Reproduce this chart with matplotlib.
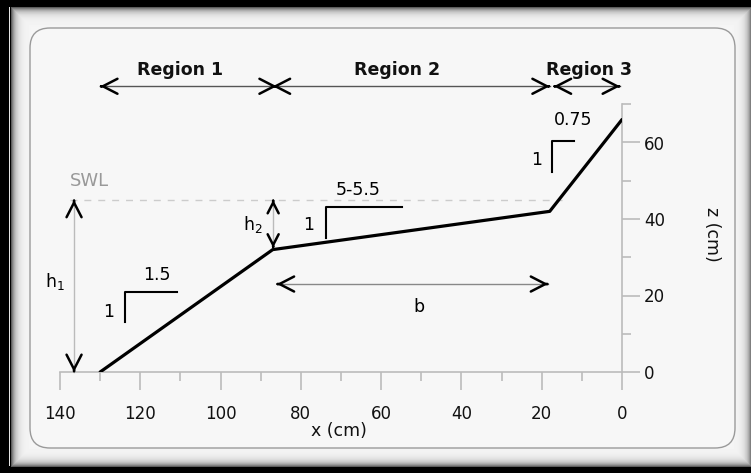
import numpy as np
import matplotlib
matplotlib.use("Agg")
import matplotlib.pyplot as plt
from matplotlib.patches import FancyBboxPatch
from matplotlib.ticker import MultipleLocator

# profil dasar (x diukur dari ujung pantai)
profile_x = [130, 87, 18, 0]
profile_z = [0, 32, 42, 66]

swl_z = 45
swl_x = [137.5, 15]

region_labels = ["Region 1", "Region 2", "Region 3"]
region_start = [130, 87, 17]
region_end = [86, 18, 0.5]
region_label_x = [110, 56, 8.2]
region_arrow_z = 74.7
region_label_z = 79

# penanda kemiringan: sudut, tinggi, panjang
slope_runs = ["1.5", "5-5.5", "0.75"]
slope_corner_x = [123.8, 73.7, 17.4]
slope_bottom_z = [13.2, 35.0, 52.2]
slope_top_z = [21.0, 43.1, 60.3]
slope_end_x = [110.8, 54.9, 12.0]
slope_run_x = [115.9, 65.7, 12.1]
slope_run_z = [25.4, 47.5, 65.8]
slope_rise_x = [128.0, 78.1, 21.3]
slope_rise_z = [15.8, 38.5, 55.5]

# dimensi h1, h2, b
h1_x, h1_label = 136.5, (141.3, 23.6)
h2_x, h2_bottom, h2_label = 86.9, 32.5, (91.9, 38.5)
b_z, b_start, b_end, b_label = 23, 86, 18.4, (50.7, 17.1)

W, H = 751, 473
fig = plt.figure(figsize=(W / 100, H / 100), dpi=100, facecolor="black")

# latar: bingkai hitam + gradasi abu-abu
bg = fig.add_axes([0, 0, 1, 1], zorder=-5)
bg.set_axis_off()
yy, xx = np.mgrid[0:H, 0:W]
d = np.minimum.reduce([xx - 11, W - xx, yy - 8, 466 - yy]).astype(float)
img = np.where(d < 0, 0.0, 0.965 - 0.6 * np.exp(-np.clip(d, 0, None) / 4.0))
img[8:466, 9] = 0.9
bg.imshow(img, cmap="gray", vmin=0, vmax=1, extent=(0, W, H, 0), aspect="auto",
          interpolation="nearest")
panel = FancyBboxPatch((30, 28), 705, 420, boxstyle="round,pad=0,rounding_size=20",
                       fc="#f7f7f7", ec="#9a9a9a", lw=1)
bg.add_patch(panel)
bg.set_xlim(0, W)
bg.set_ylim(H, 0)

ax = fig.add_axes([60 / W, (H - 372) / H, 562 / W, 80 * 3.825 / H])
ax.set_facecolor("none")
ax.set_xlim(140, 0)
ax.set_ylim(0, 80)

for s in ["top", "left"]:
    ax.spines[s].set_visible(False)
for s in ["bottom", "right"]:
    ax.spines[s].set_color("#bbbbbb")
    ax.spines[s].set_linewidth(1.2)
ax.spines["bottom"].set_bounds(0, 140)
ax.spines["right"].set_bounds(0, 70)

ax.yaxis.tick_right()
ax.xaxis.set_major_locator(MultipleLocator(20))
ax.xaxis.set_minor_locator(MultipleLocator(10))
ax.set_yticks([0, 20, 40, 60])
ax.set_yticks([10, 30, 50, 70], minor=True)
ax.tick_params(which="major", length=13, width=1.2, color="#bbbbbb",
               labelsize=12, labelcolor="#111111")
ax.tick_params(which="minor", length=6.5, width=1.2, color="#bbbbbb")
ax.tick_params(axis="x", which="major", pad=11)
ax.tick_params(axis="y", which="major", pad=3)

ax.set_xlabel("x (cm)", fontsize=12.5, color="#111111")
ax.xaxis.set_label_coords(0.497, -0.165)
ax.yaxis.set_label_position("right")
ax.set_ylabel("z (cm)", fontsize=12.5, color="#111111", rotation=270,
              va="center", ha="center")
ax.yaxis.set_label_coords(1.16, 0.45)

# garis profil
ax.plot(profile_x, profile_z, color="black", lw=2.3, solid_capstyle="round", zorder=5)

# SWL
ax.plot(swl_x, [swl_z, swl_z], color="#cccccc", lw=1, ls=(0, (5, 5)), clip_on=False)
ax.text(swl_x[0], swl_z + 2.5, "SWL", fontsize=13, color="#999999", ha="left", va="bottom")


def head(x, y, ux, uy, size):
    ax.annotate("", xy=(x, y), xytext=(x - 0.3 * ux, y - 0.3 * uy),
                arrowprops=dict(arrowstyle="->,head_length=0.7,head_width=0.36",
                                color="black", lw=1.8, shrinkA=0, shrinkB=0,
                                mutation_scale=size),
                annotation_clip=False)


def dim_arrow(x0, y0, x1, y1, color, size=15):
    ax.plot([x0, x1], [y0, y1], color=color, lw=1, clip_on=False)
    ux, uy = np.sign(x1 - x0), np.sign(y1 - y0)
    head(x1, y1, ux, uy, size)
    head(x0, y0, -ux, -uy, size)


for lab, x0, x1, xl in zip(region_labels, region_start, region_end, region_label_x):
    dim_arrow(x0, region_arrow_z, x1, region_arrow_z, "#555555")
    ax.text(xl, region_label_z, lab, fontsize=12.5, fontweight="bold",
            ha="center", va="center", color="#111111")

dim_arrow(h1_x, swl_z, h1_x, 0, "#bbbbbb")
ax.text(*h1_label, r"h$_1$", fontsize=12.5, ha="center", va="center")
dim_arrow(h2_x, swl_z, h2_x, h2_bottom, "#bbbbbb", size=11)
ax.text(*h2_label, r"h$_2$", fontsize=12.5, ha="center", va="center")
dim_arrow(b_start, b_z, b_end, b_z, "#888888")
ax.text(*b_label, "b", fontsize=12.5, ha="center", va="center")

for i in range(3):
    ax.plot([slope_corner_x[i], slope_corner_x[i], slope_end_x[i]],
            [slope_bottom_z[i], slope_top_z[i], slope_top_z[i]],
            color="black", lw=1.5)
    ax.text(slope_run_x[i], slope_run_z[i], slope_runs[i], fontsize=12.5,
            ha="center", va="center")
    ax.text(slope_rise_x[i], slope_rise_z[i], "1", fontsize=12.5,
            ha="center", va="center")

fig.savefig("out.png", dpi=100, facecolor=fig.get_facecolor())
